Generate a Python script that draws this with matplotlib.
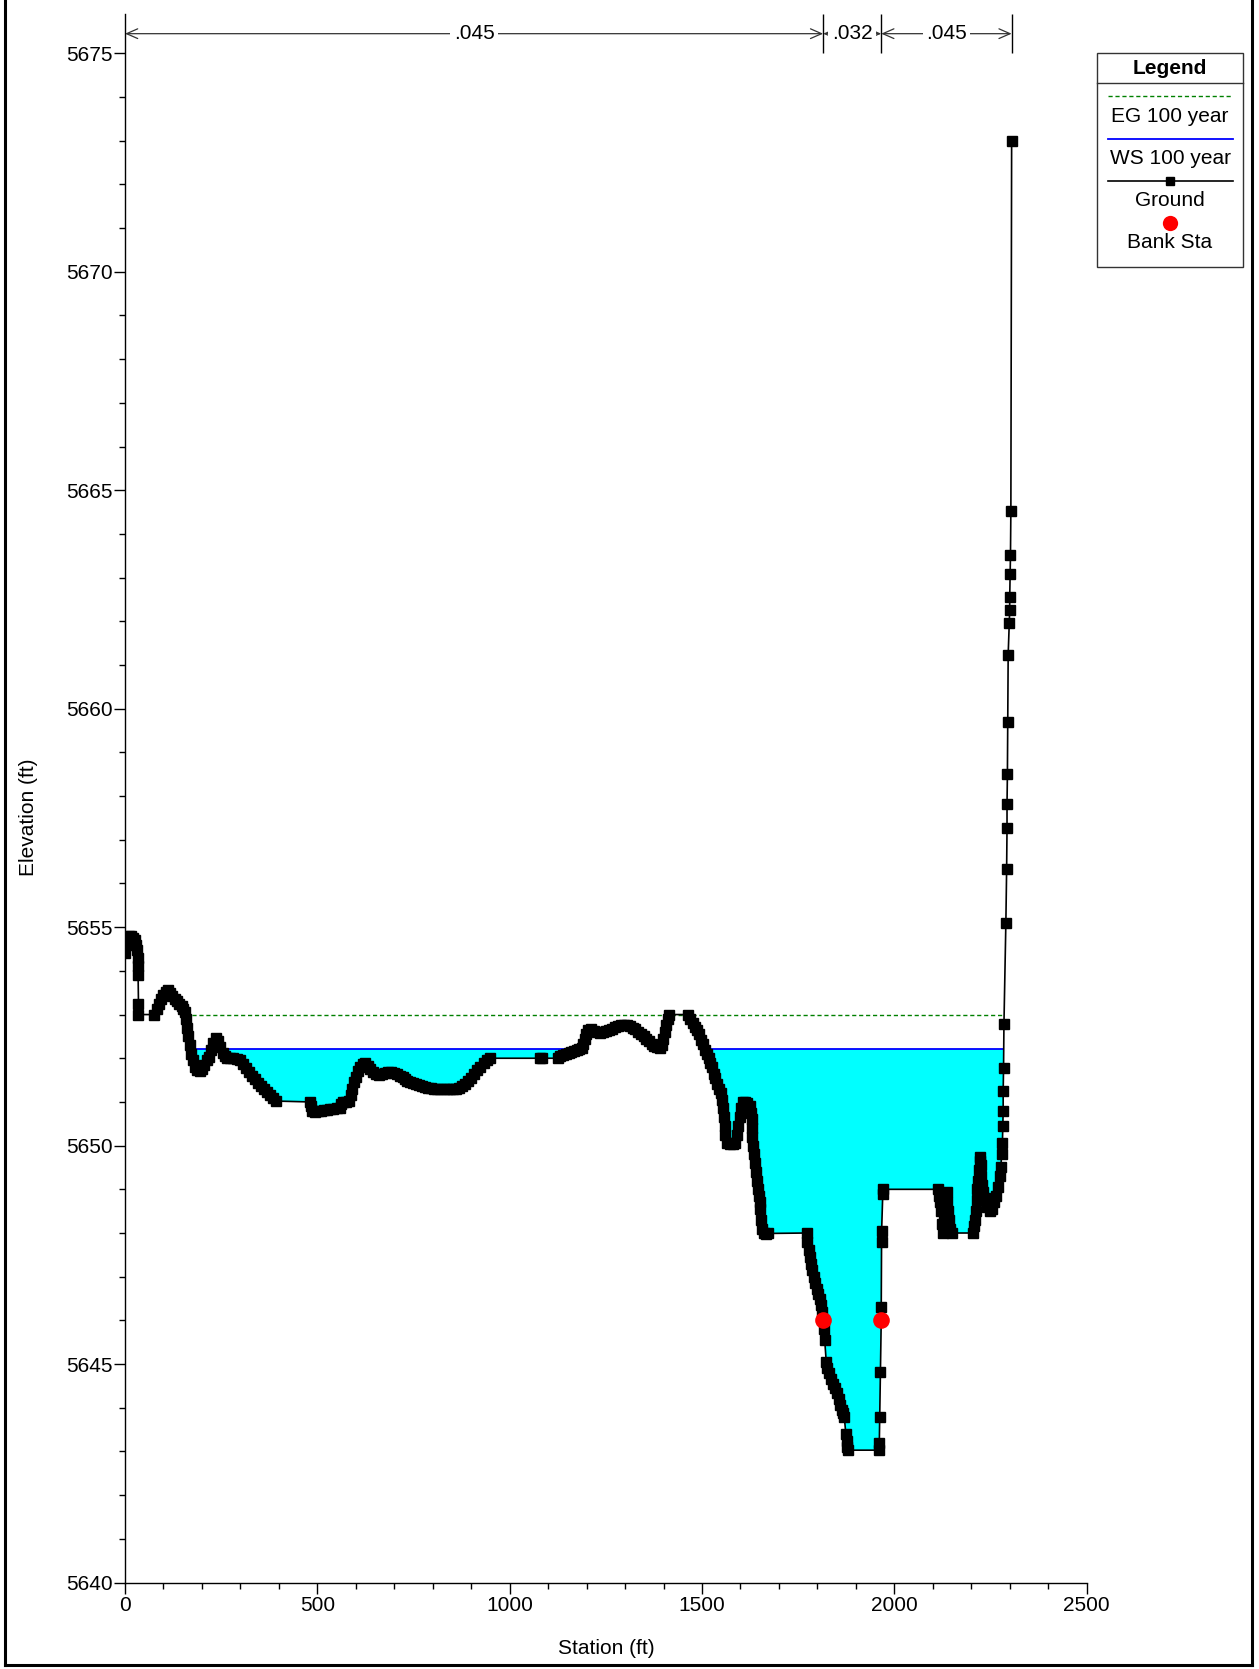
import numpy as np
import matplotlib
matplotlib.use('Agg')
import matplotlib.pyplot as plt
from matplotlib.lines import Line2D
from matplotlib.patches import Rectangle

plt.rcParams['font.family'] = ['Liberation Sans', 'DejaVu Sans']

# ground profile (station ft, elevation ft)
ground_xy = [
    (0, 5654.4), (3, 5654.6), (6, 5654.72), (10, 5654.8), (15, 5654.8), (20, 5654.76),
    (25, 5654.7), (29, 5654.6), (32, 5654.48), (33, 5654.3), (34, 5654.1), (34, 5653.9),
    (35, 5653.25), (35, 5653.0),
    (76, 5653.0), (82, 5653.12), (88, 5653.25), (94, 5653.35), (100, 5653.45), (106, 5653.52),
    (111, 5653.56), (117, 5653.5), (123, 5653.42), (129, 5653.36), (135, 5653.3), (141, 5653.25),
    (147, 5653.2), (152, 5653.13), (156, 5653.05),
    (159, 5652.9), (162, 5652.7), (165, 5652.5), (168, 5652.3), (171, 5652.1), (176, 5651.95),
    (182, 5651.8), (188, 5651.72), (194, 5651.7), (200, 5651.76), (206, 5651.85), (212, 5651.95),
    (218, 5652.02), (224, 5652.2), (230, 5652.36), (236, 5652.46), (242, 5652.4), (248, 5652.25),
    (254, 5652.12), (260, 5652.04), (266, 5652.0), (274, 5652.0), (282, 5652.0), (290, 5651.99),
    (298, 5651.95), (306, 5651.87), (314, 5651.78), (322, 5651.68), (330, 5651.6), (338, 5651.52),
    (346, 5651.44), (354, 5651.36), (362, 5651.29), (370, 5651.22), (378, 5651.15), (386, 5651.08),
    (393, 5651.02),
    (480, 5651.0), (483, 5650.9), (487, 5650.8), (494, 5650.78), (502, 5650.79), (510, 5650.8),
    (518, 5650.81), (526, 5650.82), (534, 5650.83), (542, 5650.84), (550, 5650.85), (558, 5650.87),
    (562, 5650.95), (566, 5651.0), (574, 5651.0), (582, 5651.02), (587, 5651.15), (591, 5651.3),
    (595, 5651.45), (600, 5651.58), (606, 5651.7), (612, 5651.8), (618, 5651.86), (624, 5651.88),
    (631, 5651.82), (638, 5651.75), (645, 5651.69), (652, 5651.65), (660, 5651.62), (668, 5651.64),
    (676, 5651.67), (684, 5651.69), (692, 5651.69), (700, 5651.66), (708, 5651.63), (716, 5651.6),
    (722, 5651.58), (727, 5651.52), (732, 5651.47), (740, 5651.45), (748, 5651.43), (756, 5651.41),
    (764, 5651.38), (772, 5651.36), (780, 5651.34), (788, 5651.32), (796, 5651.31), (804, 5651.3),
    (812, 5651.3), (820, 5651.3), (828, 5651.29), (836, 5651.29), (844, 5651.29), (852, 5651.29),
    (860, 5651.3), (868, 5651.33), (876, 5651.37), (884, 5651.42), (892, 5651.48), (900, 5651.55),
    (908, 5651.63), (916, 5651.72), (924, 5651.8), (932, 5651.88), (940, 5651.96), (948, 5652.0),
    (1078, 5652.0), (1085, 5652.0),
    (1126, 5652.0), (1132, 5652.05), (1139, 5652.08), (1146, 5652.1), (1153, 5652.12), (1160, 5652.14),
    (1167, 5652.16), (1174, 5652.19), (1181, 5652.21), (1187, 5652.24), (1191, 5652.32), (1195, 5652.45),
    (1199, 5652.56), (1204, 5652.65), (1211, 5652.66), (1218, 5652.62), (1226, 5652.59), (1234, 5652.57),
    (1242, 5652.6), (1250, 5652.62), (1258, 5652.65), (1266, 5652.68), (1274, 5652.71), (1282, 5652.74),
    (1290, 5652.75), (1298, 5652.76), (1306, 5652.76), (1313, 5652.73), (1320, 5652.7), (1327, 5652.66),
    (1334, 5652.61), (1341, 5652.55), (1348, 5652.5), (1355, 5652.45), (1362, 5652.39), (1369, 5652.33),
    (1376, 5652.28), (1383, 5652.25), (1390, 5652.24), (1395, 5652.3), (1399, 5652.45), (1403, 5652.6),
    (1407, 5652.75), (1411, 5652.9), (1415, 5653.0),
    (1463, 5653.0), (1470, 5652.9), (1477, 5652.8), (1482, 5652.72), (1486, 5652.65), (1492, 5652.55),
    (1498, 5652.42), (1503, 5652.32), (1508, 5652.2), (1512, 5652.1), (1517, 5652.0), (1521, 5651.9),
    (1525, 5651.8), (1530, 5651.65), (1534, 5651.55), (1538, 5651.42), (1544, 5651.3), (1550, 5651.2),
    (1553, 5651.05), (1555, 5650.85), (1557, 5650.65), (1559, 5650.45), (1561, 5650.25), (1564, 5650.05),
    (1572, 5650.03), (1580, 5650.03), (1585, 5650.05), (1590, 5650.25), (1594, 5650.45), (1598, 5650.66),
    (1601, 5650.85), (1606, 5651.0), (1612, 5651.0), (1618, 5650.98), (1624, 5650.9), (1627, 5650.75),
    (1629, 5650.6), (1630, 5650.4), (1631, 5650.2), (1632, 5650.0), (1635, 5649.8), (1638, 5649.6),
    (1641, 5649.4), (1644, 5649.2), (1646, 5649.0), (1648, 5648.85), (1650, 5648.7), (1652, 5648.55),
    (1654, 5648.3), (1655, 5648.1), (1660, 5648.0), (1666, 5647.98), (1672, 5647.99),
    (1772, 5648.0), (1774, 5647.8), (1777, 5647.6), (1780, 5647.45), (1783, 5647.3), (1787, 5647.15),
    (1790, 5647.0), (1794, 5646.85), (1798, 5646.72), (1802, 5646.6), (1806, 5646.5), (1809, 5646.35),
    (1812, 5646.2), (1815, 5646.02), (1817, 5645.8), (1819, 5645.55),
    (1823, 5645.05), (1826, 5644.9), (1830, 5644.8), (1835, 5644.65), (1840, 5644.55), (1845, 5644.45),
    (1850, 5644.33), (1855, 5644.2), (1860, 5644.07), (1864, 5643.95), (1867, 5643.87), (1870, 5643.78),
    (1874, 5643.4), (1876, 5643.25), (1878, 5643.1), (1880, 5643.03),
    (1961, 5643.03), (1961, 5643.2), (1962, 5643.78), (1964, 5644.82), (1966, 5646.02), (1966, 5646.3),
    (1967, 5647.8), (1967, 5648.05), (1970, 5648.9), (1971, 5649.0),
    (2114, 5649.0), (2117, 5648.85), (2120, 5648.7), (2122, 5648.5), (2124, 5648.2), (2126, 5648.0),
    (2128, 5648.3), (2130, 5648.6), (2133, 5648.85), (2136, 5648.95), (2138, 5648.7), (2140, 5648.5),
    (2143, 5648.3), (2146, 5648.1), (2150, 5648.0),
    (2205, 5648.0), (2208, 5648.15), (2210, 5648.3), (2212, 5648.5), (2214, 5648.75), (2216, 5649.0),
    (2218, 5649.2), (2220, 5649.45), (2222, 5649.65), (2223, 5649.75), (2225, 5649.55), (2226, 5649.3),
    (2227, 5649.1), (2230, 5648.95), (2236, 5648.8), (2242, 5648.6), (2249, 5648.5), (2255, 5648.55),
    (2260, 5648.7), (2265, 5648.85), (2270, 5649.05), (2274, 5649.3), (2277, 5649.5), (2279, 5649.8),
    (2281, 5650.05), (2282, 5650.45), (2283, 5650.8), (2283, 5651.25), (2284, 5651.78), (2285, 5652.78),
    (2290, 5655.1), (2292, 5656.34), (2293, 5657.26), (2293, 5657.82), (2294, 5658.5), (2295, 5659.7),
    (2296, 5661.24), (2299, 5661.97), (2300, 5662.26), (2300, 5662.55), (2301, 5663.08), (2302, 5663.52),
    (2303, 5664.53), (2305, 5673.0),
]

ws_elev = 5652.21          # WS 100 year
ws_segments = [(170, 1186), (1508, 2284)]
eg_elev = 5652.98          # EG 100 year
eg_range = (156, 2285)
bank_sta = [1815, 1966]
bank_elev = [5646.02, 5646.02]

# Manning's n regions along the top
n_breaks = [0, 1815, 1966, 2305]
n_values = ['.045', '.032', '.045']

gx = np.array([p[0] for p in ground_xy], dtype=float)
gy = np.array([p[1] for p in ground_xy], dtype=float)

W, H = 1259, 1669
fig = plt.figure(figsize=(W / 100, H / 100), dpi=100)
ax = fig.add_axes([0.0993, 0.0518, 0.7638, 0.9398])

# water fill
ax.fill_between(gx, gy, ws_elev, where=gy < ws_elev, interpolate=True,
                color='#00ffff', lw=0, zorder=1)
for a, b in ws_segments:
    ax.hlines(ws_elev, a, b, color='#0000ff', lw=1.3, zorder=2)
ax.hlines(eg_elev, eg_range[0], eg_range[1], color='#008000', lw=1.0,
          linestyles=(0, (3, 2)), zorder=2)

ax.plot(gx, gy, color='black', lw=1.2, marker='s', ms=6.5, zorder=4)
ax.plot(bank_sta, bank_elev, 'o', color='red', ms=12, mec='none', zorder=5)

ax.set_xlim(0, 2500)
ax.set_ylim(5640, 5675.9)
ax.set_xticks(np.arange(0, 2501, 500))
ax.set_xticks(np.arange(0, 2501, 100), minor=True)
ax.set_yticks(np.arange(5640, 5676, 5))
ax.set_yticks(np.arange(5640, 5676, 1), minor=True)
ax.tick_params(which='major', direction='out', length=8, width=1, labelsize=15)
ax.tick_params(which='minor', direction='out', length=4.5, width=1)
ax.tick_params(axis='y', pad=1)
ax.tick_params(axis='x', pad=2)
for s in ['top', 'right']:
    ax.spines[s].set_visible(False)
for s in ['left', 'bottom']:
    ax.spines[s].set_linewidth(1.0)

ax.set_xlabel('Station (ft)', fontsize=15)
ax.set_ylabel('Elevation (ft)', fontsize=15)
ax.xaxis.set_label_coords(0.5, -0.036)
ax.yaxis.set_label_coords(-0.0905, 0.488)

# n-value arrows
y_arrow = 5675.45
ax.vlines(n_breaks[1:], 5675.0, 5675.9, color='black', lw=1.0, clip_on=False)
for i, nv in enumerate(n_values):
    x0, x1 = n_breaks[i], n_breaks[i + 1]
    ax.annotate('', xy=(x0, y_arrow), xytext=(x1, y_arrow),
                arrowprops=dict(arrowstyle='<->,head_length=0.8,head_width=0.35',
                                lw=0.9, color='#333333', shrinkA=0, shrinkB=0),
                annotation_clip=False)
    ax.text((x0 + x1) / 2, y_arrow, nv, ha='center', va='center', fontsize=15,
            bbox=dict(facecolor='white', edgecolor='none', pad=2.5), zorder=6)


# legend box, drawn in figure pixels
def fx(px):
    return px / W


def fy(py):
    return 1 - py / H


fig.add_artist(Rectangle((fx(1097), fy(266.5)), fx(1243) - fx(1097), fy(53) - fy(266.5),
                         transform=fig.transFigure, fill=False, ec='#333333', lw=1.0))
fig.add_artist(Line2D([fx(1097), fx(1243)], [fy(83), fy(83)], transform=fig.transFigure,
                      color='#333333', lw=1.0))
cx = fx(1170)
fig.text(cx, fy(68), 'Legend', ha='center', va='center', fontsize=15, fontweight='bold')
fig.add_artist(Line2D([fx(1108), fx(1233)], [fy(96), fy(96)], transform=fig.transFigure,
                      color='#008000', lw=1.0, ls=(0, (3, 2))))
fig.text(cx, fy(117), 'EG 100 year', ha='center', va='center', fontsize=15)
fig.add_artist(Line2D([fx(1108), fx(1233)], [fy(139), fy(139)], transform=fig.transFigure,
                      color='#0000ff', lw=1.3))
fig.text(cx, fy(159), 'WS 100 year', ha='center', va='center', fontsize=15)
fig.add_artist(Line2D([fx(1108), fx(1233)], [fy(181.5), fy(181.5)], transform=fig.transFigure,
                      color='black', lw=1.2))
fig.add_artist(Line2D([cx], [fy(181.5)], transform=fig.transFigure, color='black',
                      marker='s', ms=6, lw=0))
fig.text(cx, fy(201), 'Ground', ha='center', va='center', fontsize=15)
fig.add_artist(Line2D([cx], [fy(223)], transform=fig.transFigure, color='red',
                      marker='o', ms=11, mec='none', lw=0))
fig.text(cx, fy(243), 'Bank Sta', ha='center', va='center', fontsize=15)

# outer frame
for xs, ys in [([5, 5], [0, 1665]), ([5, 1252], [1665, 1665]), ([1252, 1252], [0, 1665])]:
    fig.add_artist(Line2D([fx(v) for v in xs], [fy(v) for v in ys],
                          transform=fig.transFigure, color='black', lw=2.2))

fig.savefig('out.png', dpi=100)
